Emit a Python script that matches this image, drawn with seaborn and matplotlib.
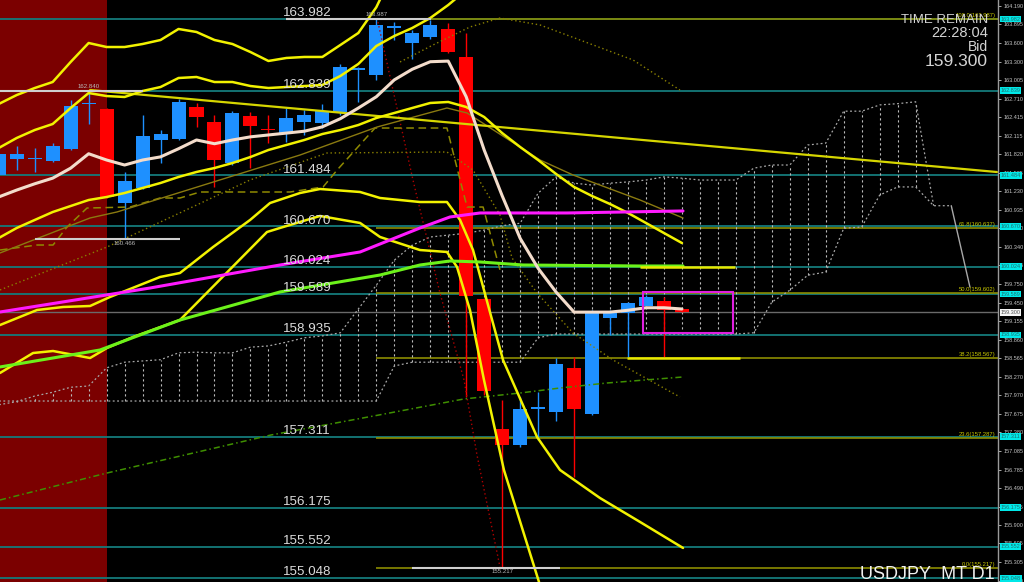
import matplotlib
matplotlib.use('Agg')
import matplotlib.pyplot as plt
import matplotlib.transforms as mtransforms
import seaborn as sns
import numpy as np

# daily candles
opens = [161.49, 161.75, 161.745, 161.72, 161.91, 162.62, 162.54, 161.04, 161.28, 162.05,
         162.06, 162.58, 162.34, 161.68, 162.43, 162.215, 162.16, 162.34, 162.32, 162.50,
         163.175, 163.09, 163.84, 163.60, 163.70, 163.82, 163.38, 159.51, 157.44, 157.18,
         157.76, 157.70, 158.41, 157.67, 159.20, 159.28, 159.40, 159.48, 159.35]
closes = [161.82, 161.82, 161.75, 161.95, 162.60, 162.63, 161.14, 161.40, 162.11, 162.15,
          162.65, 162.41, 161.73, 162.48, 162.28, 162.205, 162.40, 162.45, 162.51, 163.22,
          163.185, 163.89, 163.87, 163.76, 163.89, 163.46, 159.56, 158.04, 157.18, 157.75,
          157.77, 158.47, 157.75, 159.32, 159.32, 159.44, 159.54, 159.33, 159.30]
highs = [161.89, 161.95, 161.92, 162.00, 162.69, 162.84, 162.56, 161.54, 162.45, 162.21,
         162.70, 162.64, 162.45, 162.51, 162.49, 162.45, 162.56, 162.53, 162.63, 163.26,
         163.22, 163.987, 163.93, 163.81, 163.97, 163.92, 163.76, 159.53, 157.90, 157.94,
         158.02, 158.57, 158.58, 159.33, 159.33, 159.46, 159.57, 159.54, 159.36]
lows = [161.44, 161.57, 161.54, 161.70, 161.89, 162.31, 161.13, 160.466, 161.26, 161.68,
        162.05, 162.26, 161.30, 161.65, 161.60, 162.00, 162.02, 162.13, 162.24, 162.45,
        162.66, 163.01, 163.65, 163.34, 163.66, 163.44, 157.94, 157.98, 155.217, 157.15,
        157.26, 157.56, 156.67, 157.65, 158.93, 158.59, 159.40, 158.58, 159.30]

# short moving average (cream)
ma_fast = [161.14, 161.25, 161.35, 161.44, 161.60, 161.83, 161.73, 161.65, 161.73, 161.78,
           161.91, 162.05, 161.99, 162.05, 162.10, 162.13, 162.16, 162.19, 162.26, 162.39,
           162.56, 162.74, 163.01, 163.18, 163.30, 163.31, 162.74, 161.89, 161.16, 160.48,
           160.00, 159.62, 159.30, 159.30, 159.30, 159.33, 159.37, 159.37, 159.35]

# bands (yellow)
band_up3 = [162.625, 162.768, 162.880, 162.976, 163.296, 163.599, 163.535, 163.535, 163.583,
            163.647, 163.823, 163.775, 163.647, 163.583, 163.455, 163.312, 163.360, 163.376,
            163.376, 163.567, 163.759, 164.17, 164.765]
band_up2 = [161.922, 162.082, 162.209, 162.305, 162.561, 162.800, 162.752, 162.737, 162.832,
            162.896, 163.040, 163.056, 162.976, 162.976, 162.912, 162.880, 162.896, 162.912,
            162.928, 163.072, 163.264, 163.551, 163.711, 163.839, 163.998, 164.206, 164.446]
band_mid = [160.484, 160.644, 160.772, 160.899, 160.995, 161.091, 161.139, 161.203, 161.283,
            161.363, 161.459, 161.539, 161.602, 161.682, 161.778, 161.890, 161.970, 162.050,
            162.145, 162.209, 162.289, 162.401, 162.481, 162.561, 162.641, 162.657, 162.577,
            162.417, 162.161, 161.938, 161.730, 161.507, 161.299, 161.155, 161.027, 160.884,
            160.724, 160.564, 160.404]
band_lo2_x = [0.07, 2.13, 3.58, 5.08, 6.19, 8.97, 10.08, 11.92, 13.98, 15.09, 16.76, 17.87,
              20.10, 21.21, 23.43, 24.93, 25.66, 26.38, 28.05, 29.94, 30.83, 31.22, 33.44,
              35.67, 38.06]
band_lo2 = [159.094, 159.334, 159.382, 159.398, 159.542, 159.861, 159.925, 160.340, 160.772,
            161.043, 161.203, 161.267, 161.219, 161.123, 161.059, 161.059, 160.772, 160.292,
            158.535, 157.306, 156.938, 156.778, 156.331, 155.948, 155.533]
band_lo3_x = [0.07, 1.91, 3.02, 5.08, 6.02, 7.47, 10.08, 14.92, 15.64, 17.87, 20.10, 21.21,
              23.43, 24.93, 25.49, 26.21, 26.99, 28.10, 30.05, 30.55]
band_lo3 = [158.328, 158.647, 158.679, 158.567, 158.727, 158.903, 159.174, 160.580, 160.644,
            160.836, 160.724, 160.500, 160.292, 160.261, 160.021, 159.334, 158.216, 156.778,
            154.989, 154.382]

# thin olive line, dashed and dotted lines
olive_x = [0.07, 5.08, 6.58, 16.76, 21.04, 24.93, 26.05, 30.11, 31.94, 35.67, 38.06]
olive_y = [160.245, 160.804, 160.900, 161.810, 162.257, 162.561, 162.481, 161.730, 161.491,
           161.091, 160.804]
kijun_x = [0.07, 2.13, 3.02, 3.80, 4.91, 7.30, 8.97, 10.08, 11.20, 16.20, 18.04, 18.82,
           20.93, 24.93, 25.66, 26.05, 26.94, 27.88]
kijun_y = [160.292, 160.372, 160.372, 160.660, 160.963, 160.979, 161.123, 161.123, 161.219,
           161.219, 161.299, 161.570, 162.241, 162.241, 161.411, 160.979, 160.979, 159.973]
dot_x = [0.07, 6.02, 13.98, 18.26, 24.93, 26.38, 27.88, 28.55, 29.94, 31.94, 34.17, 37.89]
dot_y = [159.654, 160.340, 161.411, 161.842, 161.858, 161.570, 160.852, 160.165, 159.606,
         158.967, 158.535, 157.944]
dot_top_x = [22.32, 24.15, 26.21, 27.88, 30.11, 32.33, 35.28, 37.89]
dot_top_y = [163.296, 163.567, 163.855, 163.998, 163.887, 163.647, 163.328, 162.848]
red_dot_x = [21.04, 23.04, 24.54, 25.88, 26.60, 27.88]
red_dot_y = [163.998, 161.411, 159.606, 158.216, 157.018, 155.229]
green_dd_x = [0.07, 6.02, 15.14, 21.15, 25.88, 28.99, 31.22, 33.83, 38.06]
green_dd_y = [156.299, 156.730, 157.337, 157.657, 157.913, 158.008, 158.088, 158.168, 158.264]

# long averages
magenta_x = [0.07, 8.41, 15.64, 20.10, 21.76, 23.43, 25.10, 26.77, 31.61, 38.06]
magenta_y = [159.302, 159.685, 160.053, 160.261, 160.452, 160.644, 160.820, 160.884, 160.884,
             160.916]
lime_x = [0.07, 5.63, 10.08, 15.64, 21.21, 23.43, 25.10, 26.77, 29.16, 35.67, 38.06]
lime_y = [158.424, 158.695, 159.174, 159.622, 159.893, 160.053, 160.117, 160.101, 160.053,
          160.037, 160.037]

# cloud spans
span_top = [157.82, 157.87, 157.96, 158.02, 158.10, 158.12, 158.41, 158.50, 158.52, 158.54,
            158.65, 158.66, 158.65, 158.65, 158.74, 158.76, 158.82, 158.89, 158.92, 158.97,
            159.35, 159.73, 160.13, 160.37, 160.50, 160.53, 160.56, 160.61, 160.68, 160.72,
            161.20, 161.46, 161.36, 161.33, 161.36, 161.38, 161.41, 161.46, 161.44, 161.41,
            161.41, 161.41, 161.60, 161.65, 161.65, 161.97, 162.00, 162.51, 162.51, 162.61,
            162.63, 162.66, 161.00]
span_bot = [157.88] * 22 + [158.44] + [158.50] * 7 + [158.89] + [158.95] * 11 + \
           [158.97, 159.46, 159.65, 159.89, 159.94, 160.64, 160.66, 161.17, 161.30, 161.30,
            161.00, 161.00]
span_tail_x = [52.98, 54.02]
span_tail_y = [161.00, 159.70]

# horizontal levels
levels = [163.982, 162.839, 161.484, 160.670, 160.024, 159.589, 158.935, 157.311, 156.175,
          155.552, 155.048]
bid = 159.300
fib_levels = [163.987, 160.637, 159.602, 158.567, 157.287, 155.217]
fib_names = ['100.0', '61.8', '50.0', '38.2', '23.6', '0.0']
fib_start = 21

# high / low markers: centre candle, price, line start, line end, label below
marks = [(5, 162.840, 0.07, 8.03, False), (21, 163.987, 16.0, 24.04, False),
         (7, 160.466, 2.02, 10.08, True), (28, 155.217, 23.0, 31.2, True)]

# short horizontal objects and box
hl_segments = [(34.95, 41.23, 158.567), (35.67, 40.95, 160.024)]
trend_x = [5.08, 55.52]
trend_y = [162.848, 161.538]
box_x = [35.83, 40.84]
box_y = [158.967, 159.622]
red_zone = [0.07, 6.02]

axis_ticks = [164.190, 163.895, 163.600, 163.300, 163.005, 162.710, 162.415, 162.115, 161.820,
              161.525, 161.230, 160.935, 160.640, 160.340, 160.045, 159.750, 159.450, 159.155,
              158.860, 158.565, 158.270, 157.970, 157.675, 157.380, 157.085, 156.785, 156.490,
              156.195, 155.900, 155.605, 155.305, 155.010]

sns.set_theme(style='dark', rc={'axes.facecolor': 'black', 'figure.facecolor': 'black'})
plt.rcParams['font.family'] = ['Liberation Sans', 'DejaVu Sans']

fig = plt.figure(figsize=(10.24, 5.82), dpi=100, facecolor='black')
ax = fig.add_axes([0, 0, 998 / 1024, 1])
ax.set_facecolor('black')
ax.set_xlim(0.07, 55.58)
ax.set_ylim(154.989, 164.286)

ax.axvspan(red_zone[0], red_zone[1], color='#7b0000', zorder=0, lw=0)

# levels
for lv in levels:
    ax.axhline(lv, color='#157a7a', lw=1.3, zorder=1)
    ax.text(15.8, lv + 0.045, f'{lv:.3f}', color='#dcdcdc', fontsize=9.6,
            va='baseline', ha='left', zorder=7)
ax.axhline(bid, color='#6a6a6a', lw=1, zorder=1)

for lv, nm in zip(fib_levels, fib_names):
    ax.hlines(lv, fib_start, 56, color='#8c8c00', lw=1.2, zorder=1.5)
    ax.text(55.45, lv + 0.015, f'{nm}({lv:.3f})', color='#c8c800', fontsize=4.2,
            ha='right', va='bottom', zorder=7)

# cloud
n_span = len(span_top)
idx_span = np.arange(n_span)
for i in range(n_span):
    a, b = span_top[i], span_bot[i]
    ax.vlines(i, min(a, b), max(a, b), colors='#bdbdbd', lw=0.8,
              linestyles=(0, (2, 2.5)), zorder=1.6)
sns.lineplot(x=idx_span, y=span_top, ax=ax, color='#a8a8a8', lw=0.9,
             linestyle=(0, (1.5, 2)), zorder=1.7)
sns.lineplot(x=np.arange(len(span_bot)), y=span_bot, ax=ax, color='#a8a8a8', lw=0.9,
             linestyle=(0, (1.5, 2)), zorder=1.7)
sns.lineplot(x=span_tail_x, y=span_tail_y, ax=ax, color='#a8a8a8', lw=1, zorder=1.7)

# candles
idx = np.arange(len(opens))
o = np.array(opens)
c = np.array(closes)
cols = ['#1e90ff' if cc >= oo else '#ff0000' for oo, cc in zip(o, c)]
ax.vlines(idx, lows, highs, colors=cols, lw=1, zorder=3)
body = np.maximum(np.abs(c - o), 0.025)
ax.bar(idx, body, bottom=np.minimum(o, c), width=0.78, color=cols, lw=0, zorder=3.5)

# indicator lines
sns.lineplot(x=red_dot_x, y=red_dot_y, ax=ax, color='#b00000', lw=1, linestyle=(0, (1, 2)), zorder=4)
sns.lineplot(x=dot_x, y=dot_y, ax=ax, color='#8a8000', lw=1, linestyle=(0, (1, 2)), zorder=4)
sns.lineplot(x=dot_top_x, y=dot_top_y, ax=ax, color='#8a8000', lw=1, linestyle=(0, (1, 2)), zorder=4)
sns.lineplot(x=kijun_x, y=kijun_y, ax=ax, color='#8f8a00', lw=1.1, linestyle=(0, (5, 3)), zorder=4)
sns.lineplot(x=olive_x, y=olive_y, ax=ax, color='#8a7a10', lw=1, zorder=4)
sns.lineplot(x=green_dd_x, y=green_dd_y, ax=ax, color='#3f8f00', lw=1.1,
             linestyle=(0, (4, 2, 1, 2)), zorder=4)
sns.lineplot(x=trend_x, y=trend_y, ax=ax, color='#d6d600', lw=1.6, zorder=4)

yellow = '#f2f200'
sns.lineplot(x=np.arange(len(band_up3)), y=band_up3, ax=ax, color=yellow, lw=1.8, zorder=5)
sns.lineplot(x=np.arange(len(band_up2)), y=band_up2, ax=ax, color=yellow, lw=1.8, zorder=5)
sns.lineplot(x=np.arange(len(band_mid)), y=band_mid, ax=ax, color=yellow, lw=1.8, zorder=5)
sns.lineplot(x=band_lo2_x, y=band_lo2, ax=ax, color=yellow, lw=1.8, zorder=5)
sns.lineplot(x=band_lo3_x, y=band_lo3, ax=ax, color=yellow, lw=1.8, zorder=5)

sns.lineplot(x=magenta_x, y=magenta_y, ax=ax, color='#ff1aff', lw=2.2, zorder=5)
sns.lineplot(x=lime_x, y=lime_y, ax=ax, color='#6cf21a', lw=2.2, zorder=5)
sns.lineplot(x=idx, y=ma_fast, ax=ax, color='#f3dccb', lw=2.2, zorder=5.5)

for x0, x1, lv in hl_segments:
    ax.hlines(lv, x0, x1, color='#e8e800', lw=1.8, zorder=5)

ax.add_patch(plt.Rectangle((box_x[0], box_y[0]), box_x[1] - box_x[0], box_y[1] - box_y[0],
                           fill=False, edgecolor='#e020e0', lw=1.5, zorder=6))

for ci, price, x0, x1, below in marks:
    ax.hlines(price, x0, x1, color='#cfcfcf', lw=1.5, zorder=6)
    ax.text(ci, price + (-0.025 if below else 0.03), f'{price:.3f}', color='#b8b8b8',
            fontsize=4.4, ha='center', va='top' if below else 'bottom', zorder=7)

# axis styling
for s in ['top', 'left', 'bottom']:
    ax.spines[s].set_visible(False)
ax.spines['right'].set_color('#9a9a9a')
ax.spines['right'].set_linewidth(1)
ax.set_xticks([])
ax.yaxis.tick_right()
ax.set_yticks(axis_ticks)
ax.set_yticklabels([f'{t:.3f}' for t in axis_ticks])
ax.tick_params(axis='y', labelsize=4.0, colors='#c4c4c4', length=2, width=0.6, pad=2)
ax.set_xlabel('')
ax.set_ylabel('')
ax.grid(False)

trans = mtransforms.blended_transform_factory(ax.transAxes, ax.transData)
for lv in levels:
    ax.text(1.0025, lv, f'{lv:.3f}', transform=trans, fontsize=4.0, color='#1d6f6f',
            va='center', ha='left', clip_on=False, zorder=10,
            bbox=dict(facecolor='#00e8e8', edgecolor='none', pad=0.7))
ax.text(1.0025, bid, f'{bid:.3f}', transform=trans, fontsize=4.0, color='#505050',
        va='center', ha='left', clip_on=False, zorder=10,
        bbox=dict(facecolor='#f4f4f4', edgecolor='none', pad=0.7))

# info texts
fig.text(988 / 1024, 1 - 23 / 582, 'TIME REMAIN', color='#d4d4d4', fontsize=9.5,
         ha='right', va='baseline')
fig.text(988 / 1024, 1 - 37 / 582, '22:28:04', color='#d4d4d4', fontsize=10.5,
         ha='right', va='baseline')
fig.text(988 / 1024, 1 - 51 / 582, 'Bid', color='#d4d4d4', fontsize=10,
         ha='right', va='baseline')
fig.text(988 / 1024, 1 - 66 / 582, f'{bid:.3f}', color='#d4d4d4', fontsize=12.5,
         ha='right', va='baseline')
fig.text(995 / 1024, 1 - 579 / 582, 'USDJPY_MT D1', color='#f0f0f0', fontsize=13,
         ha='right', va='baseline')

fig.savefig('out.png', dpi=100, facecolor='black')
